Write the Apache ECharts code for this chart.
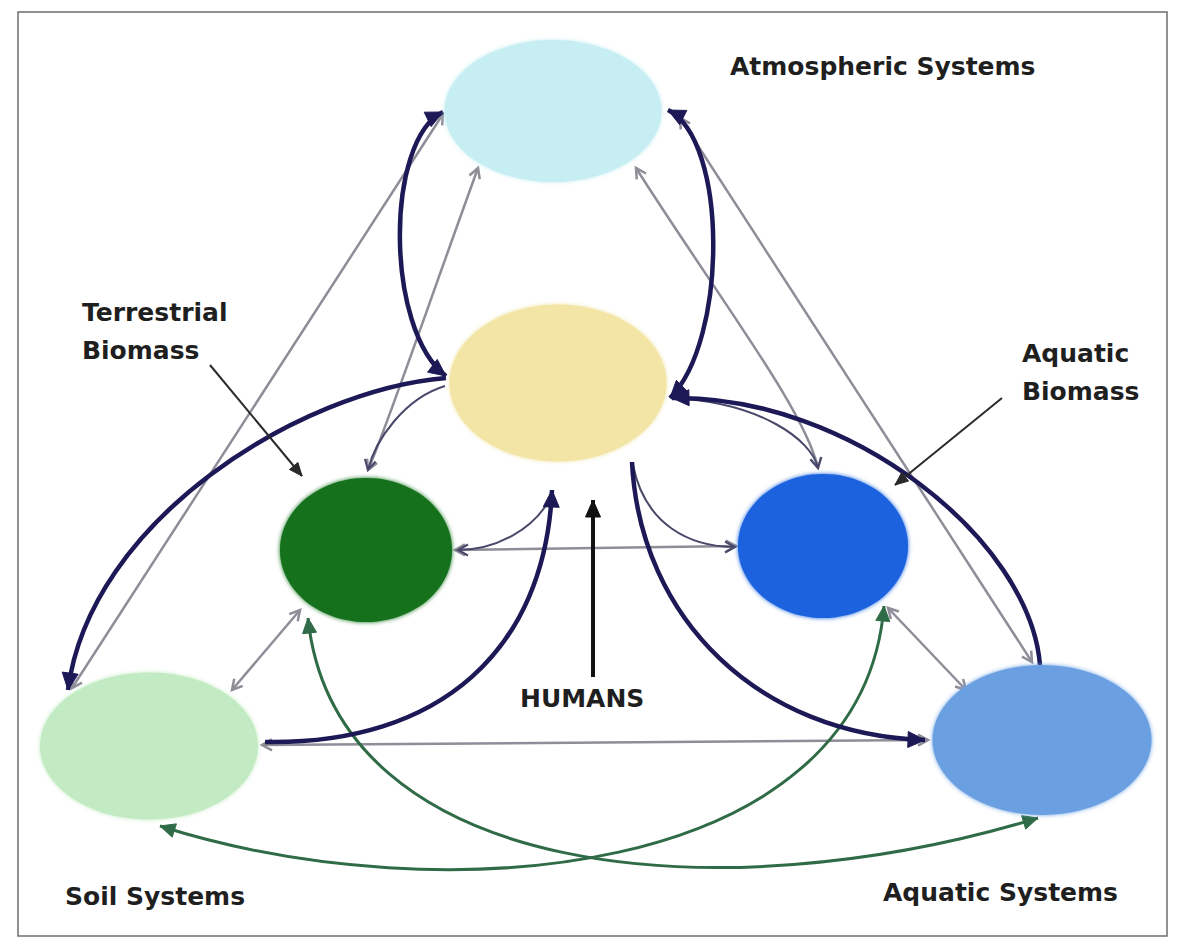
<!DOCTYPE html>
<html><head><meta charset="utf-8">
<script src="https://cdn.jsdelivr.net/npm/echarts@6/dist/echarts.min.js"></script>
<style>html,body{margin:0;padding:0;background:#fff}#c{width:1178px;height:939px}</style>
</head><body><div id="c"></div>
<script>
// ---- nodes (diagram coordinates) ----
const nodeNames = ['Atmospheric Systems', 'Humans', 'Terrestrial Biomass', 'Aquatic Biomass', 'Soil Systems', 'Aquatic Systems'];
const nodeX = [553, 558, 366, 823, 149, 1042];
const nodeY = [111, 383, 550, 546, 746, 740];
const nodeW = [217, 217, 172, 170, 218, 219];
const nodeH = [142, 157, 144, 144, 147, 150];

// ---- flows: [x0,y0, c1x,c1y, c2x,c2y, x1,y1, arrowAtStart, arrowAtEnd] ----
const navyFlows = [
  [443, 112, 385, 140, 385, 330, 446, 376, 1, 1],
  [668, 110, 728, 140, 728, 340, 670, 398, 1, 1],
  [446, 378, 300, 390, 90, 520, 68, 690, 0, 1],
  [1040, 665, 1030, 540, 850, 395, 672, 398, 0, 1],
  [265, 742, 440, 745, 545, 650, 552, 490, 0, 1],
  [632, 462, 640, 620, 760, 735, 925, 740, 0, 1]
];
const grayFlows = [
  [72, 688, 72, 688, 443, 114, 443, 114, 1, 1],
  [478, 168, 430, 300, 385, 432, 368, 470, 1, 1],
  [636, 168, 720, 300, 805, 410, 818, 468, 1, 1],
  [680, 118, 680, 118, 1032, 662, 1032, 662, 1, 1],
  [455, 550, 455, 550, 736, 546, 736, 546, 1, 1],
  [232, 690, 232, 690, 300, 610, 300, 610, 1, 1],
  [888, 608, 888, 608, 966, 690, 966, 690, 1, 1],
  [262, 745, 262, 745, 928, 740, 928, 740, 1, 1]
];
const thinFlows = [
  [445, 386, 405, 398, 375, 440, 368, 470, 0, 1],
  [672, 398, 760, 402, 812, 440, 818, 468, 0, 1],
  [552, 495, 535, 530, 495, 550, 458, 550, 0, 1],
  [633, 465, 645, 525, 690, 547, 735, 547, 0, 1]
];
const greenFlows = [
  [308, 618, 335, 880, 720, 915, 1038, 818, 1, 1],
  [884, 606, 862, 880, 440, 915, 160, 826, 1, 1]
];
const pointerFlows = [
  [210, 365, 210, 365, 302, 476, 302, 476, 0, 1],
  [1002, 398, 1002, 398, 895, 485, 895, 485, 0, 1]
];
const humansFlows = [
  [593, 677, 593, 677, 593, 500, 593, 500, 0, 1]
];

// ---- text labels ----
const labelTexts = ['Atmospheric Systems', 'Terrestrial\nBiomass', 'Aquatic\nBiomass', 'HUMANS', 'Soil Systems', 'Aquatic Systems'];
const labelX = [730, 82, 1022, 520, 65, 883];
const labelY = [66, 331, 372, 698, 896, 892];

// ---- styles ----
const nodeColors = ['#c6eef3', '#f2e5a6', '#12711b', '#1a62de', '#c3ebc3', '#6ba0e2'];
const flowStyles = {
  navy:    { color: '#1c1956', width: 4.5, headLen: 17, headW: 8,   open: false },
  gray:    { color: '#8e8d98', width: 2.5, headLen: 10, headW: 5.5, open: true },
  thin:    { color: '#48486a', width: 2,   headLen: 10, headW: 5.5, open: true },
  green:   { color: '#2f6b46', width: 3,   headLen: 15, headW: 7,   open: false },
  pointer: { color: '#2a2a2a', width: 2,   headLen: 13, headW: 5.5, open: false },
  humans:  { color: '#111111', width: 4,   headLen: 17, headW: 7.5, open: false }
};

function tangent(tip, a, b, c) {
  for (const p of [a, b, c]) {
    const dx = tip[0] - p[0], dy = tip[1] - p[1];
    if (Math.hypot(dx, dy) > 1) return [dx, dy];
  }
  return [1, 0];
}
function arrowHead(tip, d, st) {
  const len = Math.hypot(d[0], d[1]);
  const ux = d[0] / len, uy = d[1] / len;
  const bx = tip[0] - ux * st.headLen, by = tip[1] - uy * st.headLen;
  const nx = -uy * st.headW, ny = ux * st.headW;
  const pts = [[bx + nx, by + ny], [tip[0], tip[1]], [bx - nx, by - ny]];
  if (st.open) {
    return { type: 'polyline', shape: { points: pts }, style: { stroke: st.color, lineWidth: st.width, fill: null, lineJoin: 'miter' } };
  }
  return { type: 'polygon', shape: { points: pts }, style: { fill: st.color, stroke: st.color, lineWidth: 1 } };
}
function flowSeries(name, data, st) {
  return {
    name: name, type: 'custom', coordinateSystem: 'cartesian2d', silent: true, clip: false,
    dimensions: ['x0', 'y0', 'c1x', 'c1y', 'c2x', 'c2y', 'x1', 'y1', 'as', 'ae'],
    encode: { x: [0, 2, 4, 6], y: [1, 3, 5, 7] },
    data: data,
    renderItem: function (params, api) {
      const p0 = api.coord([api.value(0), api.value(1)]);
      const c1 = api.coord([api.value(2), api.value(3)]);
      const c2 = api.coord([api.value(4), api.value(5)]);
      const p1 = api.coord([api.value(6), api.value(7)]);
      const children = [{
        type: 'bezierCurve',
        shape: { x1: p0[0], y1: p0[1], cpx1: c1[0], cpy1: c1[1], cpx2: c2[0], cpy2: c2[1], x2: p1[0], y2: p1[1] },
        style: { stroke: st.color, lineWidth: st.width, fill: null }
      }];
      if (api.value(9)) children.push(arrowHead(p1, tangent(p1, c2, c1, p0), st));
      if (api.value(8)) children.push(arrowHead(p0, tangent(p0, c1, c2, p1), st));
      return { type: 'group', children: children };
    }
  };
}

const chart = echarts.init(document.getElementById('c'), null, { renderer: 'svg' });
chart.setOption({
  animation: false,
  backgroundColor: '#ffffff',
  grid: { show: true, left: 18, right: 11, top: 12, bottom: 3, borderColor: '#6e6e6e', borderWidth: 1.5, backgroundColor: '#ffffff' },
  xAxis: { type: 'value', min: 18, max: 1167, show: false },
  yAxis: { type: 'value', min: 12, max: 936, inverse: true, show: false },
  series: [
    {
      name: 'nodes', type: 'scatter', silent: true, symbol: 'circle',
      data: nodeNames.map((n, i) => ({
        name: n, value: [nodeX[i], nodeY[i]], symbolSize: [nodeW[i], nodeH[i]],
        itemStyle: { color: nodeColors[i], opacity: 1, shadowBlur: 4, shadowColor: nodeColors[i] }
      }))
    },
    flowSeries('gray', grayFlows, flowStyles.gray),
    flowSeries('green', greenFlows, flowStyles.green),
    flowSeries('thin', thinFlows, flowStyles.thin),
    flowSeries('navy', navyFlows, flowStyles.navy),
    flowSeries('pointer', pointerFlows, flowStyles.pointer),
    flowSeries('humans', humansFlows, flowStyles.humans),
    {
      name: 'labels', type: 'custom', coordinateSystem: 'cartesian2d', silent: true, clip: false,
      data: labelTexts.map((t, i) => [labelX[i], labelY[i], i]),
      renderItem: function (params, api) {
        const p = api.coord([api.value(0), api.value(1)]);
        return {
          type: 'text', x: p[0], y: p[1],
          style: {
            text: labelTexts[api.value(2)], fill: '#1f1f1f',
            font: 'bold 25px "DejaVu Sans"', align: 'left', verticalAlign: 'middle', lineHeight: 38
          }
        };
      }
    }
  ]
});
</script>
</body></html>
